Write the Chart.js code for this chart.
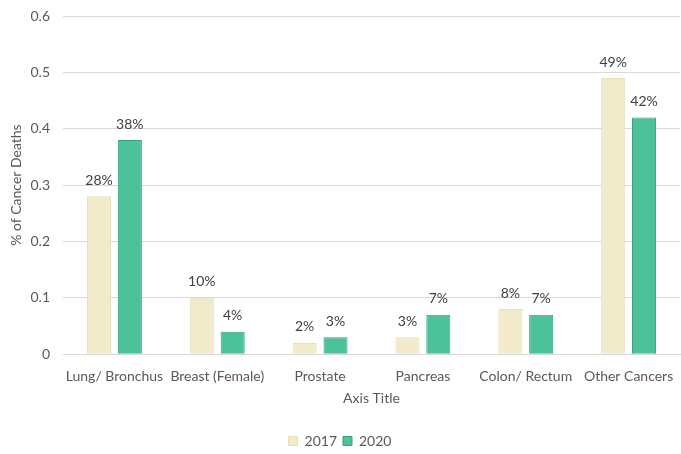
<!DOCTYPE html>
<html>
<head>
<meta charset="utf-8">
<script src="https://cdn.jsdelivr.net/npm/chart.js@4/dist/chart.umd.min.js"></script>
<style>
html,body{margin:0;padding:0;background:#fff;}
#wrap{width:681px;height:454px;position:relative;}
</style>
</head>
<body>
<div id="wrap"><canvas id="c" width="681" height="454"></canvas></div>
<script>
const categories = ["Lung/ Bronchus", "Breast (Female)", "Prostate", "Pancreas", "Colon/ Rectum", "Other Cancers"];
const series2017 = [0.28, 0.10, 0.02, 0.03, 0.08, 0.49];
const series2020 = [0.38, 0.04, 0.03, 0.07, 0.07, 0.42];
const yTicks = [0, 0.1, 0.2, 0.3, 0.4, 0.5, 0.6];

const FONT = "Lato, 'Open Sans', sans-serif";
const TXT = "#595959";

const labelPlugin = {
  id: 'barLabels',
  afterDatasetsDraw(chart) {
    const ctx = chart.ctx;
    ctx.save();
    ctx.font = "14px " + FONT;
    ctx.fillStyle = "#404040";
    ctx.textAlign = "center";
    ctx.textBaseline = "bottom";
    chart.data.datasets.forEach((ds, i) => {
      const meta = chart.getDatasetMeta(i);
      meta.data.forEach((bar, j) => {
        const v = ds.data[j];
        ctx.fillText(Math.round(v * 100) + "%", bar.x, bar.y - 9);
      });
    });
    ctx.restore();
  }
};

new Chart(document.getElementById('c'), {
  type: 'bar',
  data: {
    labels: categories,
    datasets: [
      { label: "2017", data: series2017, backgroundColor: "#F1EBCB", borderColor: "#E6DFB8", borderWidth: 1 },
      { label: "2020", data: series2020, backgroundColor: "#4CC19A", borderColor: "#33A47E", borderWidth: 1 }
    ]
  },
  options: {
    responsive: false,
    animation: false,
    devicePixelRatio: 1,
    layout: { padding: { left: 0, right: 1, top: 16, bottom: -4 } },
    datasets: { bar: { categoryPercentage: 0.6, barPercentage: 0.78 } },
    plugins: {
      legend: {
        position: 'bottom',
        labels: { boxWidth: 9, boxHeight: 9, color: TXT, font: { family: FONT, size: 14 }, padding: 6 }
      },
      tooltip: { enabled: false }
    },
    scales: {
      x: {
        grid: { display: false },
        border: { display: true, color: "#d9d9d9" },
        ticks: { color: TXT, font: { family: FONT, size: 14, lineHeight: 1 }, maxRotation: 0, autoSkip: false, padding: 7 },
        title: { display: true, text: "Axis Title", color: TXT, font: { family: FONT, size: 14 }, padding: { top: 0, bottom: 21 } }
      },
      y: {
        min: 0, max: 0.6,
        afterBuildTicks(axis) { axis.ticks = yTicks.map(v => ({ value: v })); },
        afterFit(scale) { scale.width = 63; scale.paddingTop = 0; scale.paddingBottom = 0; },
        grid: { color: "#d9d9d9", drawTicks: false },
        border: { display: false },
        ticks: { color: TXT, font: { family: FONT, size: 14 }, padding: 13, callback: v => String(v) },
        title: { display: true, text: "% of Cancer Deaths", color: TXT, font: { family: FONT, size: 14 }, padding: { top: 8, bottom: 0 } }
      }
    }
  },
  plugins: [labelPlugin]
});
</script>
</body>
</html>
